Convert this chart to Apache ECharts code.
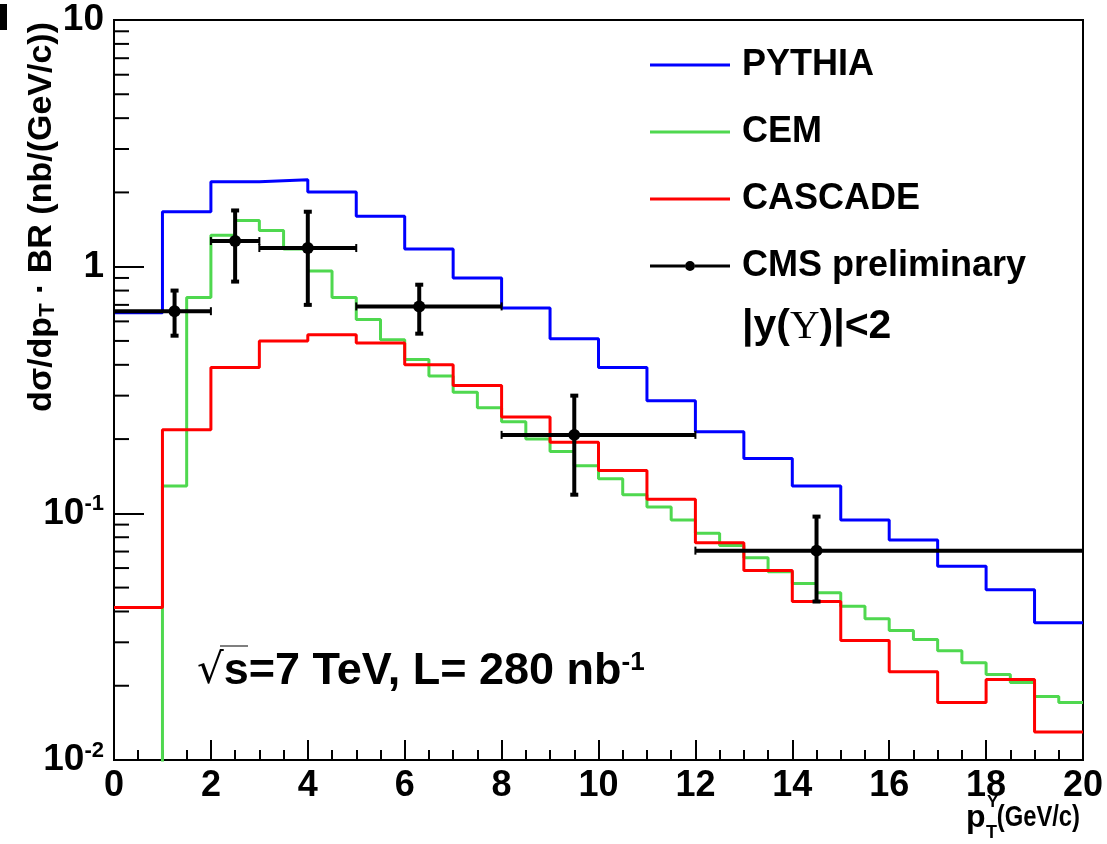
<!DOCTYPE html>
<html>
<head>
<meta charset="utf-8">
<script src="https://cdn.jsdelivr.net/npm/echarts@6/dist/echarts.min.js"></script>
<style>
  html, body { margin: 0; padding: 0; background: #fff; }
  #chartmain { width: 1107px; height: 844px; }
</style>
</head>
<body>
<div id="chartmain"></div>
<script>
// bin edges (GeV/c)
var coarseEdges = [0, 1, 2, 3, 4, 5, 6, 7, 8, 9, 10, 11, 12, 13, 14, 15, 16, 17, 18, 19, 20];
var fineEdges = [0, 0.5, 1, 1.5, 2, 2.5, 3, 3.5, 4, 4.5, 5, 5.5, 6, 6.5, 7, 7.5, 8, 8.5, 9, 9.5, 10,
  10.5, 11, 11.5, 12, 12.5, 13, 13.5, 14, 14.5, 15, 15.5, 16, 16.5, 17, 17.5, 18, 18.5, 19, 19.5, 20];

// model curves, nb/(GeV/c)
var pythiaValues = [0.65, 1.67, 2.21, 2.25, 2.01, 1.60, 1.18, 0.90, 0.68, 0.51,
  0.39, 0.286, 0.214, 0.167, 0.129, 0.094, 0.078, 0.061, 0.049, 0.036];
// first two CEM bins lie below the axis range
var cemValues = [0.001, 0.001, 0.129, 0.75, 1.34, 1.54, 1.40, 1.18, 0.96, 0.75,
  0.61, 0.505, 0.42, 0.36, 0.31, 0.268, 0.235, 0.20, 0.178, 0.156,
  0.138, 0.119, 0.106, 0.094, 0.083, 0.074, 0.066, 0.058, 0.052, 0.0477,
  0.042, 0.0374, 0.0335, 0.0308, 0.0277, 0.0248, 0.0222, 0.0206, 0.0181, 0.0171];
var cascadeValues = [0.0415, 0.218, 0.39, 0.50, 0.53, 0.49, 0.40, 0.33, 0.246, 0.194,
  0.149, 0.114, 0.076, 0.0586, 0.0439, 0.0305, 0.0228, 0.0171, 0.0212, 0.0130];

// CMS preliminary points
var cmsX = [1.25, 2.5, 4.0, 6.3, 9.5, 14.5];
var cmsXLow = [0, 2, 3, 5, 8, 12];
var cmsXHigh = [2, 3, 5, 8, 12, 20];
var cmsY = [0.66, 1.27, 1.19, 0.69, 0.208, 0.0706];
var cmsYLow = [0.525, 0.87, 0.70, 0.535, 0.119, 0.0439];
var cmsYHigh = [0.80, 1.69, 1.67, 0.845, 0.30, 0.097];

// log axis minor ticks
var yMinorTicks = [0.02, 0.03, 0.04, 0.05, 0.06, 0.07, 0.08, 0.09,
  0.2, 0.3, 0.4, 0.5, 0.6, 0.7, 0.8, 0.9,
  2, 3, 4, 5, 6, 7, 8, 9];

var FONT = 'Liberation Sans, Arial, sans-serif';
var LINE_ICON = 'path://M0,0 L80,0 L80,3 L0,3 Z';
var CMS_ICON = 'path://M0,3.5 L35,3.5 L35,6.5 L0,6.5 Z M45,3.5 L80,3.5 L80,6.5 L45,6.5 Z M35,5 A5,5 0 1 1 45,5 A5,5 0 1 1 35,5 Z';

function histPoints(edges, values) {
  var pts = values.map(function (v, i) { return [edges[i], v]; });
  pts.push([edges[edges.length - 1], values[values.length - 1]]);
  return pts;
}

function histSeries(name, color, edges, values) {
  return {
    name: name,
    type: 'line',
    step: 'end',
    symbol: 'none',
    clip: true,
    data: histPoints(edges, values),
    itemStyle: { color: color },
    lineStyle: { color: color, width: 3 },
    z: 3
  };
}

var cmsData = cmsX.map(function (x, i) {
  return [x, cmsXLow[i], cmsXHigh[i], cmsY[i], cmsYLow[i], cmsYHigh[i]];
});

var myChart = echarts.init(document.getElementById('chartmain'));

myChart.setOption({
  animation: false,
  backgroundColor: '#fff',
  grid: {
    left: 114,
    top: 20,
    width: 969,
    height: 740,
    show: true,
    borderColor: '#000',
    borderWidth: 2
  },
  legend: {
    orient: 'vertical',
    left: 645,
    top: 40,
    itemWidth: 80,
    itemHeight: 12,
    itemGap: 27,
    symbolKeepAspect: true,
    selectedMode: false,
    textStyle: {
      fontFamily: FONT,
      fontWeight: 'bold',
      fontSize: 36,
      lineHeight: 40,
      color: '#000',
      padding: [0, 0, 0, 7]
    },
    data: [
      { name: 'PYTHIA', icon: LINE_ICON },
      { name: 'CEM', icon: LINE_ICON },
      { name: 'CASCADE', icon: LINE_ICON },
      { name: 'CMS preliminary', icon: CMS_ICON }
    ]
  },
  xAxis: {
    type: 'value',
    min: 0,
    max: 20,
    interval: 2,
    axisLine: { lineStyle: { color: '#000', width: 2 } },
    axisTick: { inside: true, length: 20, lineStyle: { color: '#000', width: 2 } },
    minorTick: { show: true, splitNumber: 4, length: 10, lineStyle: { color: '#000', width: 2 } },
    splitLine: { show: false },
    axisLabel: {
      margin: 8,
      fontFamily: FONT,
      fontWeight: 'bold',
      fontSize: 36,
      color: '#000'
    }
  },
  yAxis: {
    type: 'log',
    logBase: 10,
    min: 0.01,
    max: 10,
    axisLine: { lineStyle: { color: '#000', width: 2 } },
    axisTick: { inside: true, length: 30, lineStyle: { color: '#000', width: 2 } },
    splitLine: { show: false },
    axisLabel: {
      margin: 10,
      color: '#000',
      formatter: function (v) {
        var e = Math.round(Math.log10(v));
        if (e === 1) return '{b|10}';
        if (e === 0) return '{b|1}';
        return '{b|10}{s|' + e + '}';
      },
      rich: {
        b: { fontFamily: FONT, fontWeight: 'bold', fontSize: 37, lineHeight: 40 },
        s: { fontFamily: FONT, fontWeight: 'bold', fontSize: 22, verticalAlign: 'top', lineHeight: 24 }
      }
    }
  },
  graphic: [
    { type: 'rect', left: 0, top: 4, shape: { width: 7, height: 26 }, style: { fill: '#000' } },
    {
      // y axis title, right-aligned to the top of the frame
      type: 'text',
      x: 42, y: 22,
      rotation: Math.PI / 2,
      style: {
        text: 'dσ/dp{t|T} · BR (nb/(GeV/c))',
        align: 'right',
        verticalAlign: 'middle',
        fontFamily: FONT,
        fontWeight: 'bold',
        fontSize: 34,
        fill: '#000',
        rich: {
          t: { fontFamily: FONT, fontWeight: 'bold', fontSize: 22, verticalAlign: 'bottom', lineHeight: 22 }
        }
      }
    },
    // x axis title: p, stacked sub/superscript, then units
    {
      type: 'text', x: 966, y: 818,
      style: { text: 'p', verticalAlign: 'middle', fontFamily: FONT, fontWeight: 'bold', fontSize: 32, fill: '#000' }
    },
    {
      type: 'text', x: 987, y: 802,
      style: { text: 'Υ', verticalAlign: 'middle', fontFamily: FONT, fontWeight: 'bold', fontSize: 17, fill: '#000' }
    },
    {
      type: 'text', x: 986, y: 833,
      style: { text: 'T', verticalAlign: 'middle', fontFamily: FONT, fontWeight: 'bold', fontSize: 18, fill: '#000' }
    },
    {
      type: 'text', x: 1080, y: 818,
      scaleX: 0.82,
      style: { text: '(GeV/c)', align: 'right', verticalAlign: 'middle', fontFamily: FONT, fontWeight: 'bold', fontSize: 29, fill: '#000' }
    },
    {
      type: 'text',
      x: 742, y: 327,
      style: {
        text: '|y({g|Υ})|<2',
        verticalAlign: 'middle',
        fontFamily: FONT,
        fontWeight: 'bold',
        fontSize: 41,
        fill: '#000',
        rich: {
          g: { fontFamily: 'Liberation Serif, serif', fontWeight: 'normal', fontSize: 41 }
        }
      }
    },
    {
      type: 'text',
      x: 197, y: 672,
      style: {
        text: '{r|√}s=7 TeV, L= 280 nb{s|-1}',
        verticalAlign: 'middle',
        fontFamily: FONT,
        fontWeight: 'bold',
        fontSize: 45,
        fill: '#000',
        rich: {
          r: { fontFamily: 'DejaVu Sans, sans-serif', fontWeight: 'normal', fontSize: 42 },
          s: { fontFamily: FONT, fontWeight: 'bold', fontSize: 26, verticalAlign: 'top', lineHeight: 26 }
        }
      }
    },
    { type: 'line', shape: { x1: 220, y1: 646, x2: 248, y2: 646 }, style: { stroke: '#555', lineWidth: 1.5 } }
  ],
  series: [
    histSeries('PYTHIA', '#0000ff', coarseEdges, pythiaValues),
    histSeries('CEM', '#4fd84f', fineEdges, cemValues),
    histSeries('CASCADE', '#ff0000', coarseEdges, cascadeValues),
    {
      name: 'CMS preliminary',
      type: 'custom',
      itemStyle: { color: '#000' },
      encode: { x: [0, 1, 2], y: [3, 4, 5] },
      data: cmsData,
      z: 5,
      renderItem: function (params, api) {
        var c = api.coord([api.value(0), api.value(3)]);
        var l = api.coord([api.value(1), api.value(3)]);
        var r = api.coord([api.value(2), api.value(3)]);
        var lo = api.coord([api.value(0), api.value(4)]);
        var hi = api.coord([api.value(0), api.value(5)]);
        var st = { stroke: '#000', lineWidth: 4 };
        var cap = 4;
        return {
          type: 'group',
          children: [
            { type: 'line', shape: { x1: l[0], y1: c[1], x2: r[0], y2: c[1] }, style: st },
            { type: 'line', shape: { x1: c[0], y1: lo[1], x2: c[0], y2: hi[1] }, style: st },
            { type: 'line', shape: { x1: c[0] - cap, y1: lo[1], x2: c[0] + cap, y2: lo[1] }, style: st },
            { type: 'line', shape: { x1: c[0] - cap, y1: hi[1], x2: c[0] + cap, y2: hi[1] }, style: st },
            { type: 'line', shape: { x1: l[0], y1: c[1] - cap, x2: l[0], y2: c[1] + cap }, style: { stroke: '#000', lineWidth: 2 } },
            { type: 'line', shape: { x1: r[0], y1: c[1] - cap, x2: r[0], y2: c[1] + cap }, style: { stroke: '#000', lineWidth: 2 } },
            { type: 'circle', shape: { cx: c[0], cy: c[1], r: 6 }, style: { fill: '#000' } }
          ]
        };
      }
    },
    {
      type: 'custom',
      silent: true,
      data: yMinorTicks.map(function (v) { return [0, v]; }),
      z: 4,
      renderItem: function (params, api) {
        var p = api.coord([api.value(0), api.value(1)]);
        return {
          type: 'line',
          shape: { x1: p[0], y1: p[1], x2: p[0] + 15, y2: p[1] },
          style: { stroke: '#000', lineWidth: 2 }
        };
      }
    }
  ]
});
</script>
</body>
</html>
